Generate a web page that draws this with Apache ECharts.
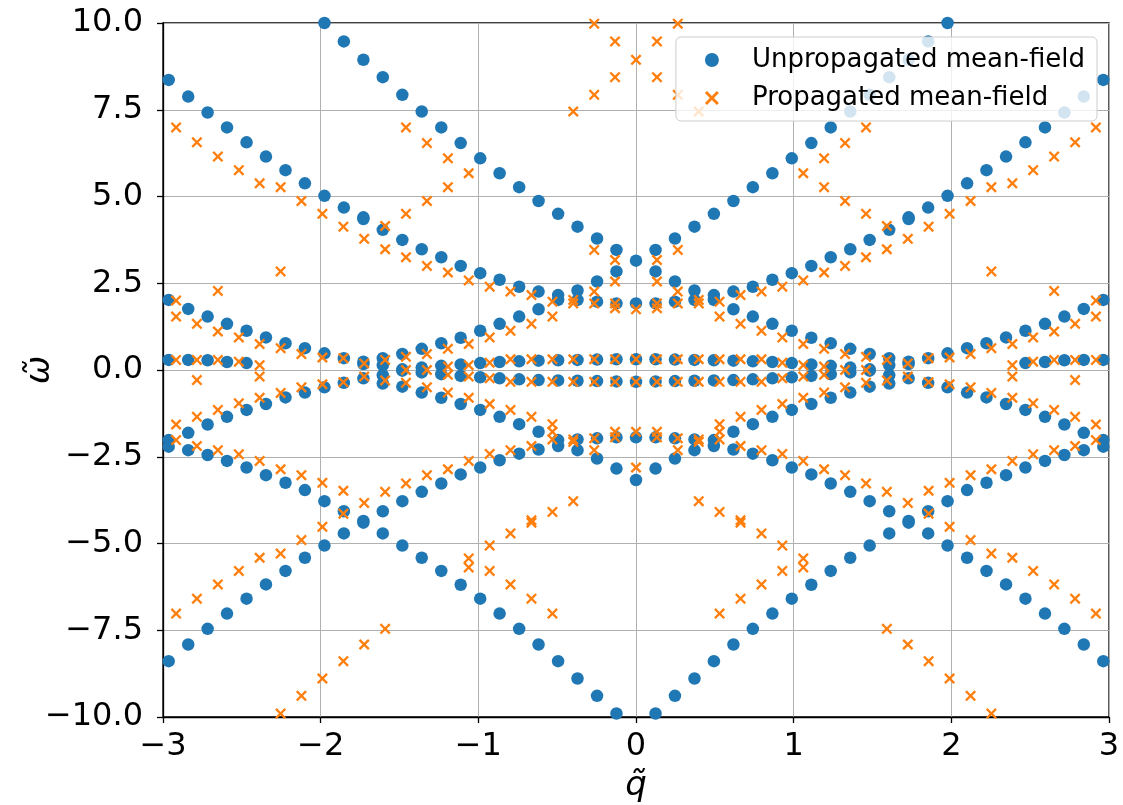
<!DOCTYPE html>
<html><head><meta charset="utf-8">
<script src="https://cdn.jsdelivr.net/npm/echarts@6/dist/echarts.min.js"></script>
<style>html,body{margin:0;padding:0;background:#fff}#c{width:1123px;height:805px}</style>
</head><body><div id="c"></div>
<script>
// q grid of the unpropagated (blue) and propagated (orange) points
const qBlue = [-2.964,-2.840,-2.717,-2.594,-2.470,-2.347,-2.223,-2.100,-1.976,-1.853,-1.729,-1.606,-1.482,-1.359,-1.235,-1.112,-0.988,-0.865,-0.741,-0.618,-0.494,-0.371,-0.247,-0.124,0.000,
 0.124,0.247,0.371,0.494,0.618,0.741,0.865,0.988,1.112,1.235,1.359,1.482,1.606,1.729,1.853,1.976,2.100,2.223,2.347,2.470,2.594,2.717,2.840,2.964];
const qOrange = [-2.917,-2.785,-2.652,-2.519,-2.387,-2.254,-2.122,-1.989,-1.856,-1.724,-1.591,-1.459,-1.326,-1.193,-1.061,-0.928,-0.796,-0.663,-0.530,-0.398,-0.265,-0.133,0.000,
 0.133,0.265,0.398,0.530,0.663,0.796,0.928,1.061,1.193,1.326,1.459,1.591,1.724,1.856,1.989,2.122,2.254,2.387,2.519,2.652,2.785,2.917];
// omega values per q column (unpropagated)
const blueOmega = [
 [8.36,2.02,0.29,-2.02,-2.21,-8.39],
 [7.88,1.76,0.29,-1.81,-2.31,-7.91],
 [7.42,1.54,0.28,-1.57,-2.45,-7.46],
 [6.99,1.33,0.23,-1.35,-2.62,-7.02],
 [6.56,1.13,0.20,-1.15,-2.81,-6.59],
 [6.15,0.94,-0.98,-3.03,-6.18],
 [5.76,0.77,-0.79,-3.25,-5.79],
 [5.38,0.63,-0.65,-3.46,-5.41],
 [10.0,5.02,0.48,-0.50,-3.78,-5.06],
 [9.47,4.68,0.34,-0.37,-4.07,-4.71],
 [8.94,4.40,4.35,0.24,0.17,-0.24,-4.35,-4.40],
 [8.44,4.04,0.34,0.14,-0.15,-0.39,-4.07,-4.71],
 [7.93,3.75,0.46,0.02,-0.02,-0.48,-3.78,-5.06],
 [7.45,3.48,0.61,0.07,-0.07,-0.65,-3.51,-5.41],
 [6.99,3.25,0.77,0.12,-0.12,-0.80,-3.27,-5.79],
 [6.54,3.00,0.93,0.16,-0.17,-0.98,-3.01,-6.19],
 [6.10,2.79,1.13,0.20,-0.21,-1.15,-2.81,-6.59],
 [5.67,2.60,1.33,0.23,-0.24,-1.35,-2.60,-7.02],
 [5.27,2.40,1.54,0.25,-0.27,-1.56,-2.41,-7.46],
 [4.87,2.26,1.75,0.27,-0.29,-1.78,-2.29,-7.91],
 [4.50,2.16,2.02,0.28,-0.30,-2.02,-2.19,-8.39],
 [4.13,2.29,2.02,0.29,-0.31,-2.00,-2.31,-8.89],
 [3.79,2.55,1.97,0.30,-0.32,-1.97,-2.55,-9.39],
 [3.46,2.84,1.92,0.31,-0.33,-1.94,-2.84,-9.90],
 [3.15,1.92,0.31,-0.34,-1.94,-3.17],
 [3.46,2.84,1.92,0.31,-0.33,-1.94,-2.84,-9.90],
 [3.79,2.55,1.97,0.30,-0.32,-1.97,-2.55,-9.39],
 [4.13,2.29,2.02,0.29,-0.31,-2.00,-2.31,-8.89],
 [4.50,2.16,2.02,0.28,-0.30,-2.02,-2.19,-8.39],
 [4.87,2.26,1.75,0.27,-0.29,-1.78,-2.29,-7.91],
 [5.27,2.40,1.54,0.25,-0.27,-1.56,-2.41,-7.46],
 [5.67,2.60,1.33,0.23,-0.24,-1.35,-2.60,-7.02],
 [6.10,2.79,1.13,0.20,-0.21,-1.15,-2.81,-6.59],
 [6.54,3.00,0.93,0.16,-0.17,-0.98,-3.01,-6.19],
 [6.99,3.25,0.77,0.12,-0.12,-0.80,-3.27,-5.79],
 [7.45,3.48,0.61,0.07,-0.07,-0.65,-3.51,-5.41],
 [7.93,3.75,0.46,0.02,-0.02,-0.48,-3.78,-5.06],
 [8.44,4.04,0.34,0.14,-0.15,-0.39,-4.07,-4.71],
 [8.94,4.40,4.35,0.24,0.17,-0.24,-4.35,-4.40],
 [9.47,4.68,0.34,-0.37,-4.07,-4.71],
 [10.0,5.02,0.48,-0.50,-3.78,-5.06],
 [5.38,0.63,-0.65,-3.46,-5.41],
 [5.76,0.77,-0.79,-3.25,-5.79],
 [6.15,0.94,-0.98,-3.03,-6.18],
 [6.56,1.13,0.20,-1.15,-2.81,-6.59],
 [6.99,1.33,0.23,-1.35,-2.62,-7.02],
 [7.42,1.54,0.28,-1.57,-2.45,-7.46],
 [7.88,1.76,0.29,-1.81,-2.31,-7.91],
 [8.36,2.02,0.29,-2.02,-2.21,-8.39]
];
// omega values per q column (propagated)
const orangeOmega = [
 [6.99,2.00,1.54,0.29,-1.57,-2.02,-7.02],
 [6.56,1.33,0.29,-0.29,-1.35,-2.19,-6.59],
 [6.15,2.28,1.11,0.29,-1.15,-2.31,-6.18],
 [5.76,0.94,0.24,-0.96,-2.43,-5.79],
 [5.38,0.75,0.14,-0.19,-0.80,-2.62,-5.41],
 [5.27,2.84,0.63,-0.66,-2.86,-5.29,-9.90],
 [4.87,0.46,-0.50,-3.03,-4.90,-9.39],
 [4.50,0.36,-0.41,-3.25,-4.52,-8.89],
 [4.13,0.34,-0.35,-3.48,-4.14,-8.39],
 [3.78,0.19,-0.19,-3.83,-7.91],
 [4.15,3.48,0.29,-0.30,-3.51,-7.46],
 [6.99,4.50,3.25,0.38,0.00,-0.37,-3.27],
 [6.54,4.87,3.00,0.46,0.00,-0.50,-3.03],
 [6.10,5.27,2.81,0.61,0.10,-0.14,-0.65,-2.86],
 [5.67,2.58,0.75,0.14,-0.19,-0.80,-2.62,-5.43,-5.69],
 [2.40,0.94,0.21,-0.24,-0.98,-2.42,-5.06,-5.79],
 [2.26,1.13,0.31,-0.34,-1.15,-2.31,-4.71,-6.18],
 [2.16,1.33,0.31,-0.34,-1.35,-2.19,-4.33,-4.40,-6.59],
 [1.97,1.54,0.31,-0.34,-1.56,-1.78,-2.00,-4.09,-7.02],
 [7.45,2.02,1.92,0.31,-0.34,-2.00,-2.07,-3.78],
 [9.98,7.93,3.46,2.26,1.92,0.31,-0.34,-1.97,-2.31],
 [9.47,8.44,3.17,2.55,1.92,1.78,0.31,-0.34,-1.78,-1.94],
 [8.94,1.75,0.31,-0.34,-1.78,-2.81],
 [9.47,8.44,3.17,2.55,1.92,1.78,0.31,-0.34,-1.78,-1.94],
 [9.98,7.93,3.46,2.26,1.92,0.31,-0.34,-1.97,-2.31],
 [7.45,2.02,1.92,0.31,-0.34,-2.00,-2.07,-3.78],
 [1.97,1.54,0.31,-0.34,-1.56,-1.78,-2.00,-4.09,-7.02],
 [2.16,1.33,0.31,-0.34,-1.35,-2.19,-4.33,-4.40,-6.59],
 [2.26,1.13,0.31,-0.34,-1.15,-2.31,-4.71,-6.18],
 [2.40,0.94,0.21,-0.24,-0.98,-2.42,-5.06,-5.79],
 [5.67,2.58,0.75,0.14,-0.19,-0.80,-2.62,-5.43,-5.69],
 [6.10,5.27,2.81,0.61,0.10,-0.14,-0.65,-2.86],
 [6.54,4.87,3.00,0.46,0.00,-0.50,-3.03],
 [6.99,4.50,3.25,0.38,0.00,-0.37,-3.27],
 [4.15,3.48,0.29,-0.30,-3.51,-7.46],
 [3.78,0.19,-0.19,-3.83,-7.91],
 [4.13,0.34,-0.35,-3.48,-4.14,-8.39],
 [4.50,0.36,-0.41,-3.25,-4.52,-8.89],
 [4.87,0.46,-0.50,-3.03,-4.90,-9.39],
 [5.27,2.84,0.63,-0.66,-2.86,-5.29,-9.90],
 [5.38,0.75,0.14,-0.19,-0.80,-2.62,-5.41],
 [5.76,0.94,0.24,-0.96,-2.43,-5.79],
 [6.15,2.28,1.11,0.29,-1.15,-2.31,-6.18],
 [6.56,1.33,0.29,-0.29,-1.35,-2.19,-6.59],
 [6.99,2.00,1.54,0.29,-1.57,-2.02,-7.02]
];
const xTicks = [-3,-2,-1,0,1,2,3];
const seriesNames = ['Unpropagated mean-field','Propagated mean-field'];

function pts(qs, cols){const out=[];cols.forEach((c,i)=>c.forEach(w=>out.push([qs[i],w])));return out;}
const minus = s => String(s).replace('-', '\u2212');
const X = 'path://M1.5,0 L5,3.5 L8.5,0 L10,1.5 L6.5,5 L10,8.5 L8.5,10 L5,6.5 L1.5,10 L0,8.5 L3.5,5 L0,1.5 Z';
const chart = echarts.init(document.getElementById('c'), null, {renderer:'canvas'});
const F = 'DejaVu Sans';
chart.setOption({
 animation:false,
 backgroundColor:'#fff',
 grid:{left:163,top:23,width:946,height:694,containLabel:false,outerBoundsMode:'none',
  show:true,borderColor:'#000',borderWidth:1.3,backgroundColor:'transparent'},
 xAxis:{type:'value',min:xTicks[0],max:xTicks[xTicks.length-1],interval:1,
  axisLine:{show:true,onZero:false,lineStyle:{color:'#000',width:1.3}},
  axisTick:{show:true,length:6,lineStyle:{color:'#000',width:1.3}},
  splitLine:{show:true,lineStyle:{color:'#b0b0b0',width:1}},
  axisLabel:{fontSize:32,color:'#000',fontFamily:F,margin:14,formatter:v=>minus(v)},
  name:'q\u0303',nameLocation:'middle',nameGap:52,nameMoveOverlap:false,
  nameTextStyle:{fontSize:34,fontStyle:'italic',fontFamily:F,color:'#000'}},
 yAxis:{type:'value',min:-10,max:10,interval:2.5,
  axisLine:{show:true,onZero:false,lineStyle:{color:'#000',width:1.3}},
  axisTick:{show:true,length:6,lineStyle:{color:'#000',width:1.3}},
  splitLine:{show:true,lineStyle:{color:'#b0b0b0',width:1}},
  axisLabel:{fontSize:32,color:'#000',fontFamily:F,margin:20,formatter:v=>minus(v.toFixed(1))},
  name:'\u03c9\u0303',nameLocation:'middle',nameGap:106,nameRotate:90,nameMoveOverlap:false,
  nameTextStyle:{fontSize:34,fontStyle:'italic',fontFamily:F,color:'#000'}},
 legend:{orient:'vertical',right:26,top:37,itemGap:12,itemWidth:14,itemHeight:14,
  backgroundColor:'rgba(255,255,255,0.8)',borderColor:'#cccccc',borderWidth:1,borderRadius:5,
  padding:[10,12,10,29],textStyle:{fontSize:26,fontFamily:F,color:'#000',padding:[0,0,0,28]},
  data:[{name:seriesNames[0],icon:'circle'},{name:seriesNames[1],icon:X}]},
 series:[
  {name:seriesNames[0],type:'scatter',symbol:'circle',symbolSize:12.5,itemStyle:{color:'#1f77b4',opacity:1},data:pts(qBlue,blueOmega),z:2},
  {name:seriesNames[1],type:'scatter',symbol:X,symbolSize:11,itemStyle:{color:'#ff7f0e',opacity:1},data:pts(qOrange,orangeOmega),z:3}
 ]
});
</script></body></html>
